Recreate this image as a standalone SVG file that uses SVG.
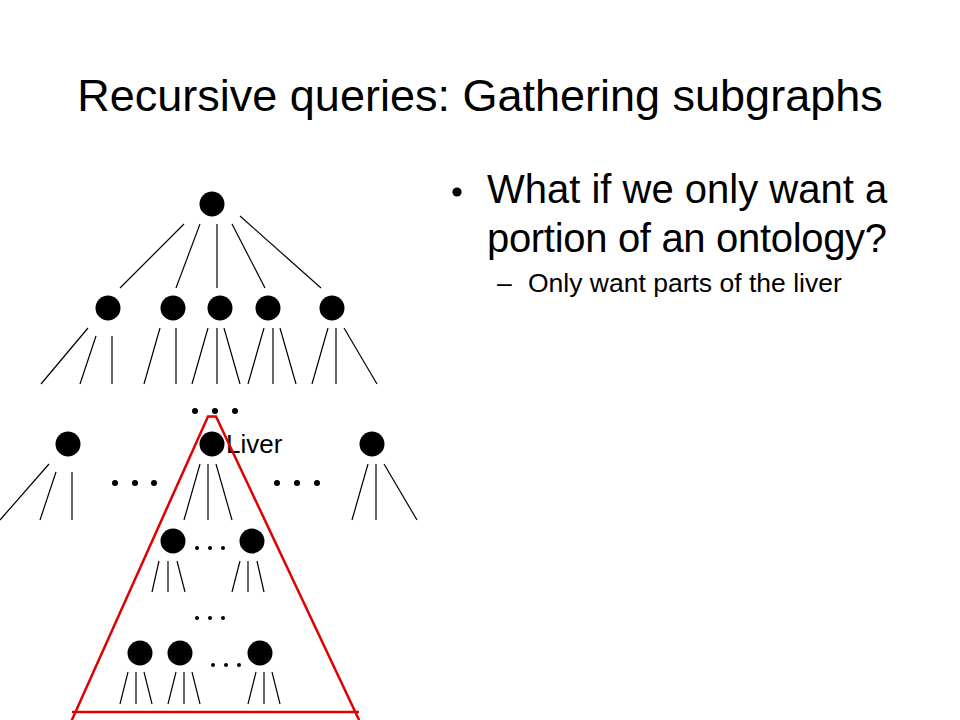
<svg xmlns="http://www.w3.org/2000/svg" width="960" height="720" viewBox="0 0 960 720">
<style>
.t{font-family:"Liberation Sans",Arial,sans-serif;fill:#000}
.n{fill:#000}
.e line{stroke:#000;stroke-width:1.2}
.d{fill:#000}
.red{stroke:#e00000;stroke-width:2.5;fill:none}
</style>
<rect width="960" height="720" fill="#fff"/>
<text class="t" x="480" y="111" font-size="45" text-anchor="middle">Recursive queries: Gathering subgraphs</text>
<g id="bullets">
<circle cx="457" cy="192" r="4.6" fill="#000"/>
<text class="t" x="487" y="203" font-size="40">What if we only want a</text>
<text class="t" x="487" y="252" font-size="40" textLength="400" lengthAdjust="spacing">portion of an ontology?</text>
<text class="t" x="497" y="292" font-size="26.5">–</text>
<text class="t" x="528" y="292" font-size="26.5">Only want parts of the liver</text>
</g>
<g id="connectors" class="e">
<line x1="184" y1="224" x2="120" y2="288"/>
<line x1="200" y1="224" x2="176" y2="288"/>
<line x1="217" y1="224" x2="217" y2="288"/>
<line x1="232" y1="224" x2="265" y2="288"/>
<line x1="240" y1="216" x2="321" y2="288"/>
<line x1="88" y1="328" x2="41" y2="384"/>
<line x1="96" y1="336" x2="80" y2="384"/>
<line x1="112" y1="336" x2="112" y2="384"/>
<line x1="160" y1="328" x2="144" y2="384"/>
<line x1="176" y1="328" x2="176" y2="384"/>
<line x1="208" y1="328" x2="192" y2="384"/>
<line x1="217" y1="328" x2="217" y2="384"/>
<line x1="224" y1="328" x2="240" y2="384"/>
<line x1="264" y1="328" x2="248" y2="384"/>
<line x1="273" y1="328" x2="273" y2="384"/>
<line x1="280" y1="328" x2="296" y2="384"/>
<line x1="328" y1="328" x2="312" y2="384"/>
<line x1="336" y1="328" x2="336" y2="384"/>
<line x1="344" y1="328" x2="377" y2="384"/>
<line x1="49" y1="464" x2="0" y2="520"/>
<line x1="56" y1="472" x2="40" y2="520"/>
<line x1="72" y1="472" x2="72" y2="520"/>
<line x1="200" y1="464" x2="184" y2="520"/>
<line x1="208" y1="464" x2="208" y2="520"/>
<line x1="216" y1="464" x2="232" y2="520"/>
<line x1="368" y1="464" x2="352" y2="520"/>
<line x1="376" y1="464" x2="376" y2="520"/>
<line x1="384" y1="464" x2="417" y2="520"/>
<line x1="159" y1="561" x2="152" y2="592"/>
<line x1="168" y1="561" x2="168" y2="592"/>
<line x1="177" y1="561" x2="185" y2="592"/>
<line x1="240" y1="561" x2="232" y2="592"/>
<line x1="248" y1="561" x2="248" y2="592"/>
<line x1="257" y1="561" x2="264" y2="592"/>
<line x1="128" y1="672" x2="120" y2="704"/>
<line x1="136" y1="672" x2="136" y2="704"/>
<line x1="144" y1="672" x2="152" y2="704"/>
<line x1="176" y1="672" x2="168" y2="704"/>
<line x1="184" y1="672" x2="184" y2="704"/>
<line x1="192" y1="672" x2="200" y2="704"/>
<line x1="256" y1="672" x2="248" y2="704"/>
<line x1="264" y1="672" x2="264" y2="704"/>
<line x1="272" y1="672" x2="280" y2="704"/>
</g>
<g id="root"><circle class="n" cx="212" cy="204" r="12.5"/></g>
<g id="l2a"><circle class="n" cx="108" cy="308" r="12.5"/></g>
<g id="l2b"><circle class="n" cx="173" cy="308" r="12.5"/></g>
<g id="l2c"><circle class="n" cx="220" cy="308" r="12.5"/></g>
<g id="l2d"><circle class="n" cx="268" cy="308" r="12.5"/></g>
<g id="l2e"><circle class="n" cx="332" cy="308" r="12.5"/></g>
<g id="l3a"><circle class="n" cx="68" cy="444" r="12.5"/></g>
<g id="liver"><circle class="n" cx="212" cy="444" r="12.5"/><text class="t" x="226" y="453" font-size="26">Liver</text></g>
<g id="l3c"><circle class="n" cx="372" cy="444" r="12.5"/></g>
<g id="l4a"><circle class="n" cx="173" cy="541" r="12.5"/></g>
<g id="l4b"><circle class="n" cx="252" cy="541" r="12.5"/></g>
<g id="l5a"><circle class="n" cx="140" cy="653" r="12.5"/></g>
<g id="l5b"><circle class="n" cx="180" cy="653" r="12.5"/></g>
<g id="l5c"><circle class="n" cx="260" cy="653" r="12.5"/></g>
<g id="dots">
<circle class="d" cx="195" cy="411" r="3"/><circle class="d" cx="215" cy="411" r="3"/><circle class="d" cx="235" cy="411" r="3"/>
<circle class="d" cx="115" cy="483" r="3"/><circle class="d" cx="135" cy="483" r="3"/><circle class="d" cx="154" cy="483" r="3"/>
<circle class="d" cx="277" cy="483" r="3"/><circle class="d" cx="297" cy="483" r="3"/><circle class="d" cx="317" cy="483" r="3"/>
<circle class="d" cx="197" cy="548" r="2"/><circle class="d" cx="210" cy="548" r="2"/><circle class="d" cx="223" cy="548" r="2"/>
<circle class="d" cx="197" cy="618" r="2"/><circle class="d" cx="210" cy="618" r="2"/><circle class="d" cx="223" cy="618" r="2"/>
<circle class="d" cx="213" cy="665" r="2"/><circle class="d" cx="226" cy="665" r="2"/><circle class="d" cx="239" cy="665" r="2"/>
</g>
<g id="subgraph">
<path class="red" d="M71,722 L208,416.5 L216,416.5 L360,722"/>
<line class="red" x1="72" y1="712" x2="359" y2="712"/>
</g>
</svg>
